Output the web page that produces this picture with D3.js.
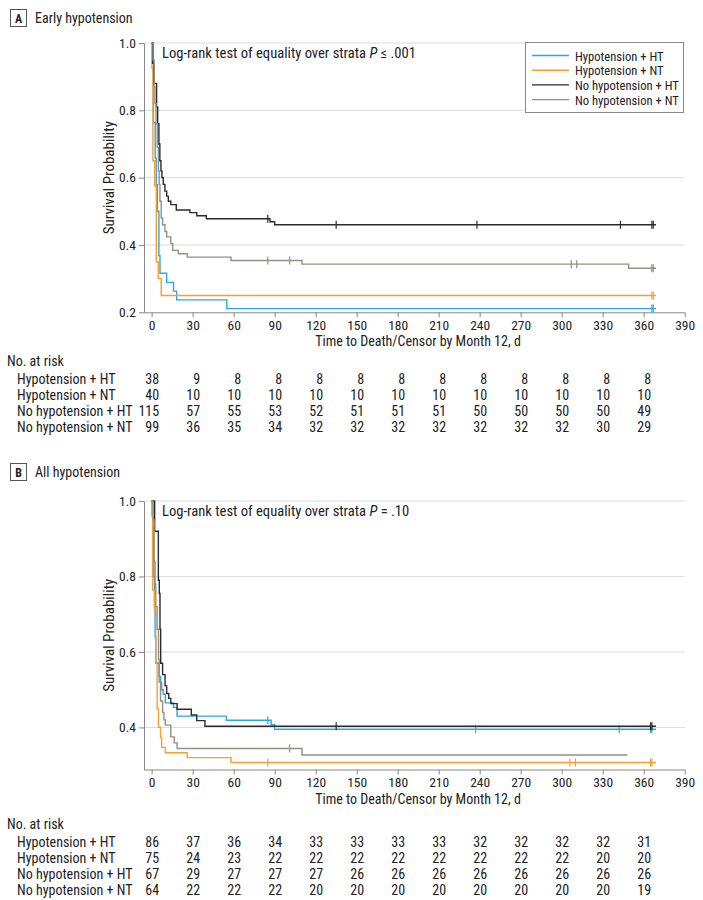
<!DOCTYPE html>
<html><head><meta charset="utf-8">
<script src="https://cdn.jsdelivr.net/npm/d3@7"></script>
<style>
body{margin:0;background:#fff;}
text{font-family:"Liberation Sans Narrow","Roboto Condensed","DejaVu Sans Condensed",Roboto,sans-serif;fill:#222;}
</style></head>
<body><svg id="c" width="703" height="900"></svg>
<script>
// ---------- data ----------
const categories = ["Hypotension + HT", "Hypotension + NT", "No hypotension + HT", "No hypotension + NT"];
const colors = ["#2ea7e0", "#f5a031", "#2b2b2b", "#958f85"];
const xTicks = [0,30,60,90,120,150,180,210,240,270,300,330,360,390];
const riskTimes = [0,30,60,90,120,150,180,210,240,270,300,330,360];

// Panel A: Early hypotension
const yTicksA = [0.2,0.4,0.6,0.8,1.0];
const A_HypHT_t = [0,1.3,2.6,3.3,4.2,5.3,6.1,11,16,18.3,55];
const A_HypHT_s = [1,0.763,0.658,0.579,0.50,0.368,0.316,0.289,0.263,0.237,0.211];
const A_HypHT_c = [366,367];
const A_HypHT_end = 369;
const A_HypNT_t = [0,0.2,0.9,2.2,3.4,4.8,7];
const A_HypNT_s = [1,0.925,0.65,0.575,0.35,0.30,0.25];
const A_HypNT_c = [366,367];
const A_HypNT_end = 369;
const A_NoHT_t = [0,0.7,1.7,3.6,4.4,5.3,6,6.8,7.5,8.5,9.7,11,12.2,14,18,28,33,40,86.6,90];
const A_NoHT_s = [1,0.94,0.88,0.81,0.76,0.70,0.65,0.62,0.60,0.58,0.56,0.545,0.53,0.52,0.504,0.496,0.487,0.478,0.469,0.46];
const A_NoHT_c = [85,135,238,343,366,367];
const A_NoHT_end = 369;
const A_NoNT_t = [0,1,1.8,2.4,3.2,4.1,4.9,5.5,6.1,7,8,9.7,11,14,15.4,19.5,26,58,110,349];
const A_NoNT_s = [1,0.95,0.87,0.82,0.76,0.69,0.62,0.58,0.53,0.48,0.46,0.44,0.424,0.404,0.384,0.374,0.364,0.354,0.343,0.331];
const A_NoNT_c = [85,101,307,311,366,367];
const A_NoNT_end = 369;
const riskA_HypHT = [38,9,8,8,8,8,8,8,8,8,8,8,8];
const riskA_HypNT = [40,10,10,10,10,10,10,10,10,10,10,10,10];
const riskA_NoHT = [115,57,55,53,52,51,51,51,50,50,50,50,49];
const riskA_NoNT = [99,36,35,34,32,32,32,32,32,32,32,30,29];

// Panel B: All hypotension
const yTicksB = [0.4,0.6,0.8,1.0];
const B_HypHT_t = [0,1,1.5,2,2.5,3,5.5,6.5,7.3,8.5,10,16,18.6,54.7,87.4,90];
const B_HypHT_s = [1,0.93,0.80,0.72,0.64,0.57,0.535,0.52,0.50,0.488,0.465,0.453,0.43,0.419,0.407,0.395];
const B_HypHT_c = [85,237,342,365,366];
const B_HypHT_end = 369;
const B_HypNT_t = [0,0.1,0.7,2.2,3,4,5,6.5,7.3,10,26,58];
const B_HypNT_s = [1,0.96,0.764,0.707,0.573,0.45,0.40,0.373,0.347,0.333,0.32,0.307];
const B_HypNT_c = [85,306,310,365,366];
const B_HypNT_end = 369;
const B_NoHT_t = [0,2.2,4.9,5.6,6.1,6.6,8,9.8,11,12.5,14,18.6,29,33,39];
const B_NoHT_s = [1,0.92,0.79,0.755,0.66,0.57,0.54,0.51,0.49,0.477,0.463,0.448,0.433,0.418,0.403];
const B_NoHT_c = [135,365,366];
const B_NoHT_end = 369;
const B_NoNT_t = [0,1,1.8,2.5,3,4,5,5.5,6.5,8,9,10,14,16.5,18.6,110];
const B_NoNT_s = [1,0.95,0.84,0.78,0.72,0.66,0.58,0.52,0.47,0.44,0.42,0.406,0.375,0.359,0.344,0.327];
const B_NoNT_c = [101];
const B_NoNT_end = 348;
const riskB_HypHT = [86,37,36,34,33,33,33,33,32,32,32,32,31];
const riskB_HypNT = [75,24,23,22,22,22,22,22,22,22,22,20,20];
const riskB_NoHT = [67,29,27,27,27,26,26,26,26,26,26,26,26];
const riskB_NoNT = [64,22,22,22,20,20,20,20,20,20,20,20,19];

// ---------- drawing ----------
const svg = d3.select("#c");

function panel(cfg){
  const g = svg.append("g");
  const x = d3.scaleLinear().domain([-5.6,390]).range([144,684.7]);
  const y = d3.scaleLinear().domain(cfg.yDomain).range(cfg.yRange);

  // header
  g.append("rect").attr("x",10.5).attr("y",cfg.top+9.5).attr("width",16).attr("height",17)
    .attr("fill","#fff").attr("stroke","#555").attr("stroke-width",1);
  g.append("text").attr("x",18.5).attr("y",cfg.top+22.5).attr("text-anchor","middle")
    .style("font-size","12px").style("font-weight","bold").text(cfg.letter);
  g.append("text").attr("x",35).attr("y",cfg.top+23).style("font-size","14px").text(cfg.title);

  // grid
  g.selectAll(".grid").data(cfg.grid).join("line")
    .attr("x1",144).attr("x2",684.7).attr("y1",d=>y(d)).attr("y2",d=>y(d))
    .attr("stroke","#dcdcdc").attr("stroke-width",1);

  // axes
  const ya = g.append("g").attr("transform","translate(144,0)")
    .call(d3.axisLeft(y).tickValues(cfg.yTicks).tickFormat(d3.format(".1f")).tickSize(5).tickSizeOuter(0));
  const xa = g.append("g").attr("transform",`translate(0,${cfg.yRange[0]})`)
    .call(d3.axisBottom(x).tickValues(xTicks).tickSize(5).tickSizeOuter(0));
  [ya,xa].forEach(a=>{
    a.selectAll("path,line").attr("stroke","#888");
    a.selectAll("text").style("font-size","13.5px").attr("fill","#222");
  });
  xa.select(".domain").attr("d",`M144,0.5H684.7`);

  g.append("text").attr("transform",`translate(114,${(cfg.yRange[0]+cfg.yRange[1])/2}) rotate(-90)`)
    .attr("text-anchor","middle").style("font-size","15px").text("Survival Probability");
  g.append("text").attr("x",418).attr("y",cfg.yRange[0]+34).attr("text-anchor","middle")
    .style("font-size","14px").text("Time to Death/Censor by Month 12, d");

  // log-rank
  const lr = g.append("text").attr("x",162).attr("y",cfg.yRange[1]+15).style("font-size","14.6px");
  lr.append("tspan").text("Log-rank test of equality over strata ");
  lr.append("tspan").style("font-style","italic").text("P");
  lr.append("tspan").text(cfg.pText);

  // curves
  const line = d3.line().x(d=>x(d[0])).y(d=>y(d[1])).curve(d3.curveStepAfter);
  cfg.series.forEach((s,i)=>{
    const pts = s.t.map((t,j)=>[t,s.s[j]]);
    pts.push([s.end, s.s[s.s.length-1]]);
    g.append("path").attr("d",line(pts)).attr("fill","none")
      .attr("stroke",colors[i]).attr("stroke-width",1.4);
    const val = t=>{ let v=s.s[0]; s.t.forEach((tt,j)=>{ if(tt<=t) v=s.s[j]; }); return v; };
    g.selectAll(null).data(s.c).join("line")
      .attr("x1",d=>x(d)).attr("x2",d=>x(d))
      .attr("y1",d=>y(val(d))-4).attr("y2",d=>y(val(d))+4)
      .attr("stroke",colors[i]).attr("stroke-width",1.2);
  });

  // legend
  if(cfg.legend){
    g.append("rect").attr("x",525.5).attr("y",42.5).attr("width",158).attr("height",70)
      .attr("fill","#fff").attr("stroke","#888");
    categories.forEach((c,i)=>{
      const yy = 55.5 + i*14.7;
      g.append("line").attr("x1",532).attr("x2",569).attr("y1",yy).attr("y2",yy)
        .attr("stroke",colors[i]).attr("stroke-width",1.4);
      g.append("text").attr("x",575).attr("y",yy+5).style("font-size","12.6px").text(c);
    });
  }

  // risk table
  g.append("text").attr("x",7).attr("y",cfg.riskTop).style("font-size","14px").text("No. at risk");
  cfg.risk.forEach((r,i)=>{
    const yy = cfg.riskTop + 18 + i*16;
    g.append("text").attr("x",17).attr("y",yy).style("font-size","14px").text(categories[i]);
    g.selectAll(null).data(r).join("text")
      .attr("x",(d,j)=>x(riskTimes[j])+7.5).attr("y",yy).attr("text-anchor","end")
      .style("font-size","14px").text(d=>d);
  });
}

panel({
  top:0, letter:"A", title:"Early hypotension",
  yDomain:[0.2,1.0], yRange:[312.3,43], yTicks:yTicksA, grid:[0.4,0.6,0.8,1.0],
  pText:" \u2264 .001", legend:true, riskTop:366,
  series:[
    {t:A_HypHT_t,s:A_HypHT_s,c:A_HypHT_c,end:A_HypHT_end},
    {t:A_HypNT_t,s:A_HypNT_s,c:A_HypNT_c,end:A_HypNT_end},
    {t:A_NoHT_t,s:A_NoHT_s,c:A_NoHT_c,end:A_NoHT_end},
    {t:A_NoNT_t,s:A_NoNT_s,c:A_NoNT_c,end:A_NoNT_end}],
  risk:[riskA_HypHT,riskA_HypNT,riskA_NoHT,riskA_NoNT]
});
panel({
  top:454, letter:"B", title:"All hypotension",
  yDomain:[0.2885,1.0], yRange:[769.5,501], yTicks:yTicksB, grid:[0.4,0.6,0.8,1.0],
  pText:" = .10", legend:false, riskTop:829,
  series:[
    {t:B_HypHT_t,s:B_HypHT_s,c:B_HypHT_c,end:B_HypHT_end},
    {t:B_HypNT_t,s:B_HypNT_s,c:B_HypNT_c,end:B_HypNT_end},
    {t:B_NoHT_t,s:B_NoHT_s,c:B_NoHT_c,end:B_NoHT_end},
    {t:B_NoNT_t,s:B_NoNT_s,c:B_NoNT_c,end:B_NoNT_end}],
  risk:[riskB_HypHT,riskB_HypNT,riskB_NoHT,riskB_NoNT]
});
</script></body></html>
